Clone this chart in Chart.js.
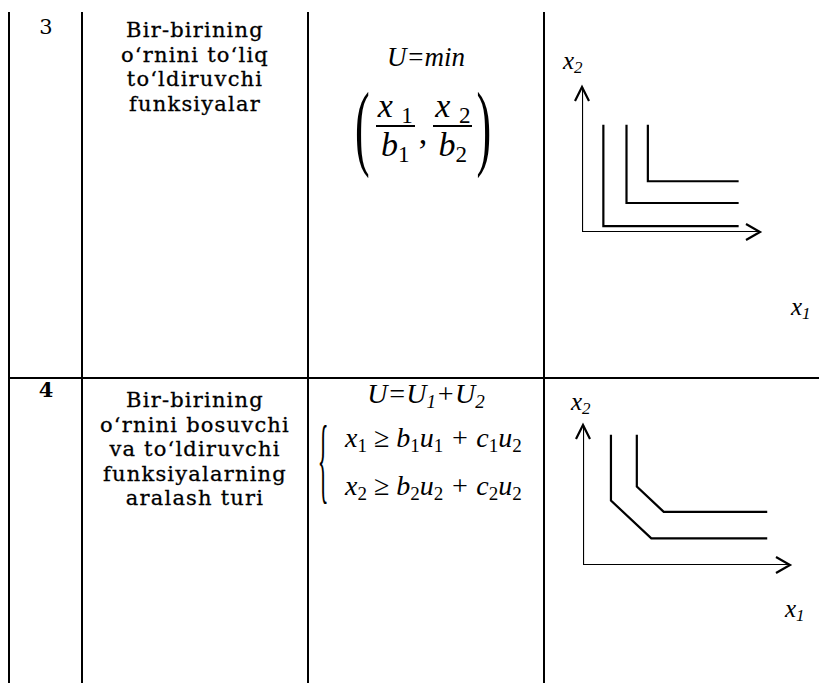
<!DOCTYPE html>
<html>
<head>
<meta charset="utf-8">
<script src="https://cdn.jsdelivr.net/npm/chart.js@4.4.1/dist/chart.umd.min.js"></script>
<style>
  html, body { margin: 0; padding: 0; background: #fff; }
  #page { position: relative; width: 819px; height: 683px; overflow: hidden; color: #000; }
  .vl { position: absolute; top: 12px; bottom: 0; width: 2px; background: #000; }
  .hl { position: absolute; left: 9px; right: 0; height: 2px; background: #000; }
  .txt { position: absolute; font-family: "DejaVu Serif", serif; font-size: 21px; letter-spacing: 1.2px; line-height: 24.5px; text-align: center; -webkit-text-stroke: 0.3px #000; }
  .num { position: absolute; font-family: "DejaVu Serif", serif; font-size: 21px; width: 76px; text-align: center; }
  .m { position: absolute; font-family: "Liberation Serif", serif; font-style: italic; white-space: nowrap; }
  .m sub { font-size: 68%; vertical-align: -0.25em; line-height: 0; }
  .m sub.r { font-style: normal; }
  .frac { display: inline-block; vertical-align: middle; text-align: center; line-height: 1.08; }
  .frac span { display: block; padding: 0 2px; }
  .frac .top { border-bottom: 2px solid #000; }
  .par { display: inline-block; font-style: normal; font-size: 44px; transform: scale(1, 2.15); }
  canvas { position: absolute; }
</style>
</head>
<body>
<div id="page">
  <div class="vl" style="left:8px"></div>
  <div class="vl" style="left:81px"></div>
  <div class="vl" style="left:307px"></div>
  <div class="vl" style="left:543px"></div>
  <div class="hl" style="top:377px"></div>

  <div class="num" style="left:8px; top:15px">3</div>
  <div class="txt" style="left:83px; width:224px; top:18px">Bir-birining<br>o‘rnini to‘liq<br>to‘ldiruvchi<br>funksiyalar</div>
  <div class="m" style="left:308px; width:236px; top:42px; font-size:27px; text-align:center">U=min</div>
  <div class="m" style="left:355px; top:78px; font-size:34px; height:96px; display:flex; align-items:center">
    <span class="par">(</span>
    <span class="frac" style="margin-left:6px"><span class="top">x&nbsp;<sub class="r">1</sub></span><span>b<sub class="r">1</sub></span></span><span style="margin:14px 6px 0 4px; font-style:normal">,</span><span class="frac"><span class="top">x&nbsp;<sub class="r">2</sub></span><span>b<sub class="r">2</sub></span></span>
    <span class="par" style="margin-left:4px">)</span>
  </div>

  <div class="num" style="left:8px; top:377px; font-weight:bold">4</div>
  <div class="txt" style="left:83px; width:224px; top:388px">Bir-birining<br>o‘rnini bosuvchi<br>va to‘ldiruvchi<br>funksiyalarning<br>aralash turi</div>
  <div class="m" style="left:308px; width:236px; top:378px; font-size:28px; text-align:center">U=U<sub>1</sub>+U<sub>2</sub></div>
  <div class="m" style="left:316px; top:444px; font-size:30px; line-height:30px; height:30px; font-style:normal; transform:scale(0.75,3.2); transform-origin:center">{</div>
  <div class="m" style="left:345px; top:414px; font-size:28px; line-height:48px">x<sub class="r">1</sub> ≥ b<sub class="r">1</sub>u<sub class="r">1</sub> + c<sub class="r">1</sub>u<sub class="r">2</sub><br>x<sub class="r">2</sub> ≥ b<sub class="r">2</sub>u<sub class="r">2</sub> + c<sub class="r">2</sub>u<sub class="r">2</sub></div>

  <div class="m" style="left:563px; top:47px; font-size:25px">x<sub>2</sub></div>
  <div class="m" style="left:791px; top:293px; font-size:25px">x<sub>1</sub></div>
  <div class="m" style="left:571px; top:388px; font-size:25px">x<sub>2</sub></div>
  <div class="m" style="left:785px; top:595px; font-size:25px">x<sub>1</sub></div>

  <canvas id="c1" width="202" height="169" style="left:570px; top:75px"></canvas>
  <canvas id="c2" width="231" height="164" style="left:571px; top:413px"></canvas>
</div>
<script>
// axes drawn as an L from the top of x2 to the end of x1
const axisX = [0, 0, 10];
const axisY = [10, 0, 0];

// perfect complements: three L-shaped indifference curves
const compX = [1.2, 2.5, 3.7];
const compCorner = [0.4, 2.0, 3.5];
const compTop = 7.4;
const compRight = 8.8;

// mixed type: vertical, then a diagonal segment, then horizontal
const mixKneeX = [1.35, 2.6];
const mixKneeY = [4.6, 5.6];
const mixFootX = [3.3, 3.9];
const mixFootY = [1.9, 3.8];
const mixTop = 9.3;
const mixRight = 8.9;

const ink = '#000';

function pts(xs, ys) {
    return xs.map((x, i) => ({ x: x, y: ys[i] }));
}

function lineSet(data) {
    return {
        data: data,
        showLine: true,
        borderColor: ink,
        borderWidth: 2.2,
        pointRadius: 0,
        fill: false,
        tension: 0
    };
}

// arrowheads at the ends of the axes
const arrows = {
    id: 'arrows',
    afterDatasetsDraw(chart) {
        const ctx = chart.ctx;
        const xs = chart.scales.x, ys = chart.scales.y;
        const ox = xs.getPixelForValue(0);
        const topY = ys.getPixelForValue(10);
        const oy = ys.getPixelForValue(0);
        const endX = xs.getPixelForValue(10);
        ctx.save();
        ctx.strokeStyle = ink;
        ctx.lineWidth = 2.2;
        ctx.beginPath();
        ctx.moveTo(ox - 7, topY + 14);
        ctx.lineTo(ox, topY);
        ctx.lineTo(ox + 7, topY + 14);
        ctx.moveTo(endX - 14, oy - 8);
        ctx.lineTo(endX, oy);
        ctx.lineTo(endX - 14, oy + 8);
        ctx.stroke();
        ctx.restore();
    }
};

function makeChart(id, datasets) {
    new Chart(document.getElementById(id).getContext('2d'), {
        type: 'scatter',
        data: { datasets: datasets },
        options: {
            responsive: false,
            animation: false,
            layout: { padding: 12 },
            plugins: { legend: { display: false }, tooltip: { enabled: false } },
            scales: {
                x: { type: 'linear', min: 0, max: 10, display: false },
                y: { type: 'linear', min: 0, max: 10, display: false }
            }
        },
        plugins: [arrows]
    });
}

makeChart('c1', [lineSet(pts(axisX, axisY))].concat(
    compX.map((x, i) => lineSet(pts([x, x, compRight], [compTop, compCorner[i], compCorner[i]])))
));

makeChart('c2', [lineSet(pts(axisX, axisY))].concat(
    mixKneeX.map((x, i) => lineSet(pts(
        [x, x, mixFootX[i], mixRight],
        [mixTop, mixKneeY[i], mixFootY[i], mixFootY[i]]
    )))
));
</script>
</body>
</html>
